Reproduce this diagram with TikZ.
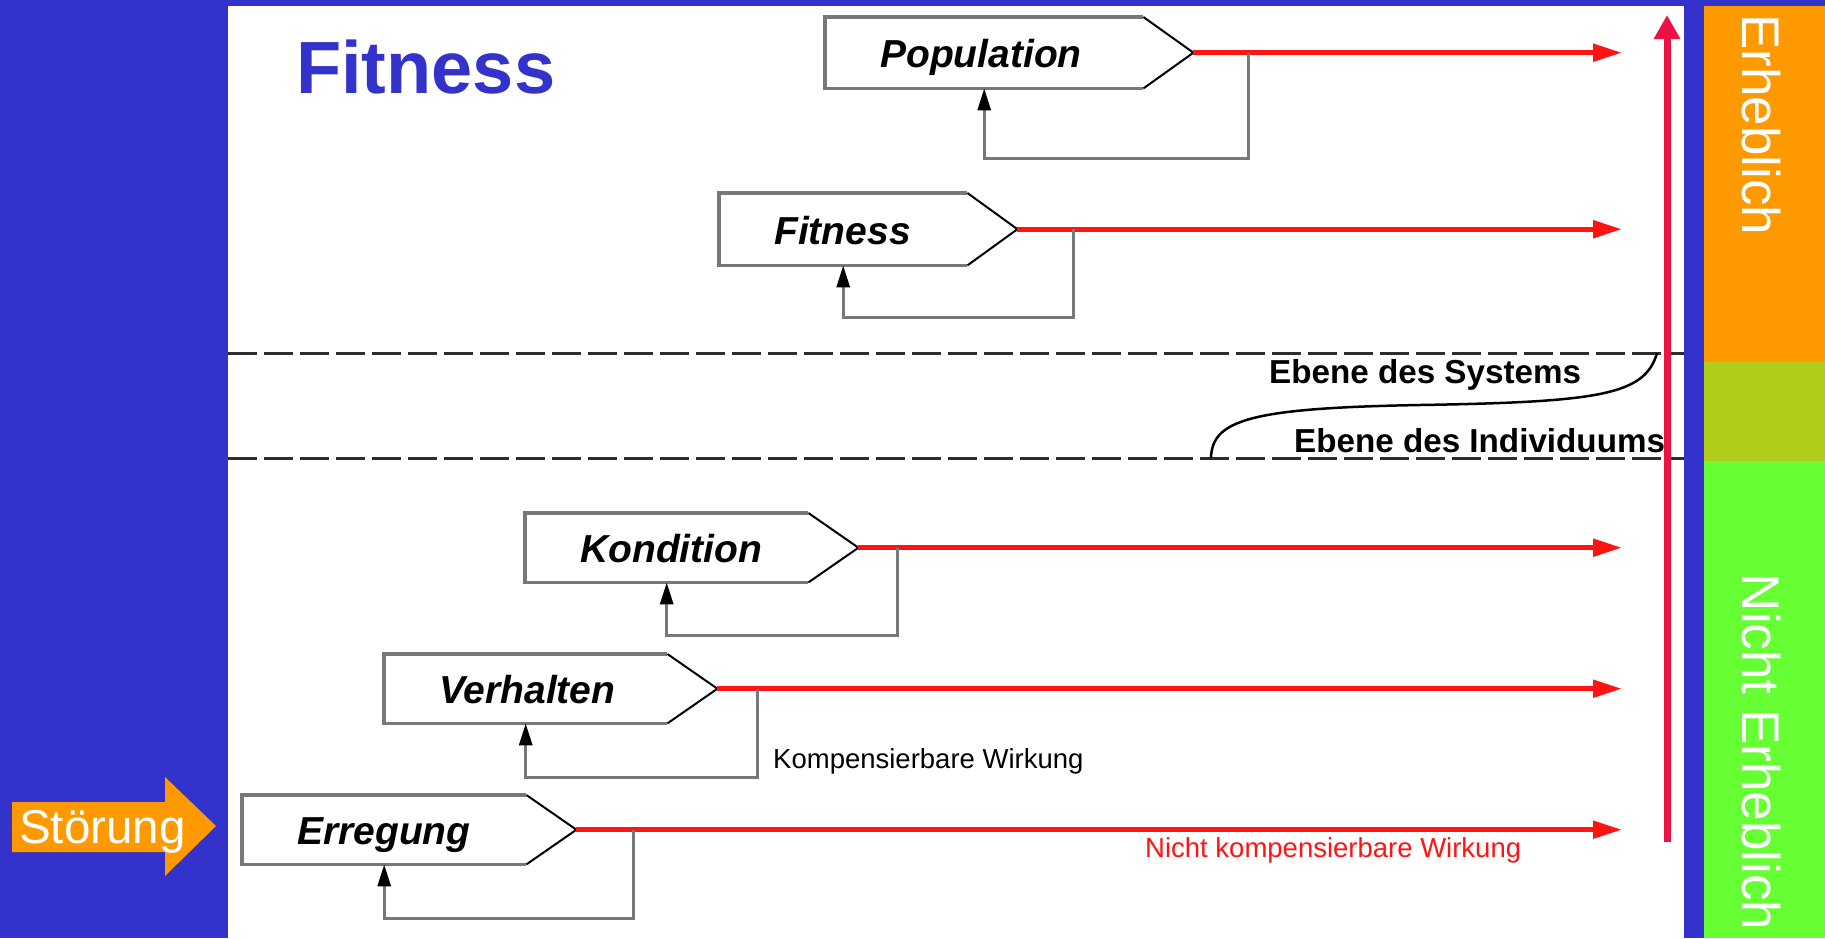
\documentclass[tikz,border=0pt]{standalone}
\usepackage{fontspec}
\setmainfont{Liberation Sans}
\usetikzlibrary{arrows.meta,calc}
\definecolor{bgblue}{RGB}{51,51,204}
\definecolor{orng}{RGB}{255,153,0}
\definecolor{olv}{RGB}{178,204,26}
\definecolor{grn}{RGB}{102,255,51}
\definecolor{redline}{RGB}{255,20,20}
\definecolor{crimson}{RGB}{238,17,68}
\definecolor{boxgray}{RGB}{120,120,120}
\definecolor{dashgray}{RGB}{45,45,45}
\newcommand\pentbox[8]{%
  \node[minimum width=#4pt, minimum height=#5pt, inner sep=0pt, anchor=north west] (#1) at (#2,#3) {};
  \coordinate (#1tip) at ($(#1.east)+(50,0)$);
  \coordinate (#1end) at (#1tip -| xend);
  \coordinate (#1fb) at ($(#1tip)+(#7,0)$);
  \coordinate (#1fbb) at ($(#1.south)+(0,#8)$);
  \fill[white] (#1.north west) -- (#1.north east) -- (#1tip) -- (#1.south east) -- (#1.south west) -- cycle;
  \draw[boxline] (#1.north east) -- (#1.north west) -- (#1.south west) -- (#1.south east);
  \draw[tipline] (#1.north east) -- (#1tip) -- (#1.south east);
  \node[boxtext] (#1txt) at ($(#1.west)+(55,15)$) {#6};
  \draw[effect] (#1tip) -- (#1end);
  \draw[fbline] (#1fb) |- (#1fbb) -- (#1.south);
}
\begin{document}
\begin{tikzpicture}[x=1pt,y=-1pt,
  boxline/.style={draw=boxgray,line width=3.5pt},
  tipline/.style={draw=black,line width=2pt},
  boxtext/.style={anchor=base west,inner sep=0pt,font=\fontsize{39}{40}\selectfont\bfseries\itshape},
  fbline/.style={draw=boxgray,line width=3pt,-{Triangle[length=22pt,width=13pt,color=black]}},
  effect/.style={draw=redline,line width=5pt,-{Triangle[length=29pt,width=17pt]}},
  dashline/.style={draw=dashgray,line width=3pt,dash pattern=on 29pt off 7pt},
  levtext/.style={anchor=base west,inner sep=0pt,font=\fontsize{33.2}{34}\selectfont\bfseries},
  smalltext/.style={anchor=base west,inner sep=0pt,font=\fontsize{27.5}{28}\selectfont},
  sidetext/.style={anchor=base,inner sep=0pt,rotate=-90,text=white,font=\fontsize{53}{55}\selectfont}
]
\useasboundingbox (0,0) rectangle (1825,938);
\fill[bgblue] (0,0) rectangle (1825,938);
\fill[white] (228,6) rectangle (1684,938);
\fill[orng] (1704,6) rectangle (1825,362);
\fill[olv] (1704,362) rectangle (1825,461);
\fill[grn] (1704,461) rectangle (1825,938);
\coordinate (xend) at (1622,0);

% title
\node[anchor=base west,inner sep=0pt,text=bgblue,font=\fontsize{74}{76}\selectfont\bfseries] (title) at (296,93) {Fitness};

% level lines
\coordinate (d1a) at (228,353); \coordinate (d1b) at (1684,353);
\coordinate (d2a) at (228,458); \coordinate (d2b) at (1684,458);
\draw[dashline] (d1a) -- (d1b);
\draw[dashline] (d2a) -- (d2b);
\draw[black,line width=2.5pt] (1211,458) .. controls (1212,420) and (1250,408) .. (1420,405) .. controls (1600,402) and (1645,395) .. (1657,353);
\node[levtext] (sys) at (1269,383) {Ebene des Systems};
\node[levtext] (ind) at (1294,452) {Ebene des Individuums};

% boxes
\pentbox{pop}{825}{17}{318}{71}{Population}{55}{70}
\pentbox{fit}{719}{193}{248}{72}{Fitness}{56}{52}
\pentbox{kon}{525}{513}{283}{69}{Kondition}{39}{53}
\pentbox{ver}{384}{654}{283}{69}{Verhalten}{40}{54}
\pentbox{err}{242}{795}{284}{69}{Erregung}{57}{54}

\node[smalltext] (komp) at (773,768) {Kompensierbare Wirkung};
\node[smalltext,text=redline] (nkomp) at (1145,857) {Nicht kompensierbare Wirkung};

% vertical arrow
\coordinate (vbot) at (1667,842);
\coordinate (vtop) at (1667,15);
\draw[crimson,line width=7pt,-{Triangle[length=24pt,width=25pt]}] (vbot) -- (vtop);

% Störung arrow
\fill[orng] (12,802) -- (165,802) -- (165,777) -- (216,826) -- (165,876) -- (165,852) -- (12,852) -- cycle;
\node[anchor=base west,inner sep=0pt,text=white,font=\fontsize{47.5}{48}\selectfont] (stoer) at (19,843) {Störung};

% side labels
\node[sidetext] (erh) at (1742,125) {Erheblich};
\node[sidetext] (nerh) at (1742,752) {Nicht Erheblich};
\end{tikzpicture}
\end{document}
